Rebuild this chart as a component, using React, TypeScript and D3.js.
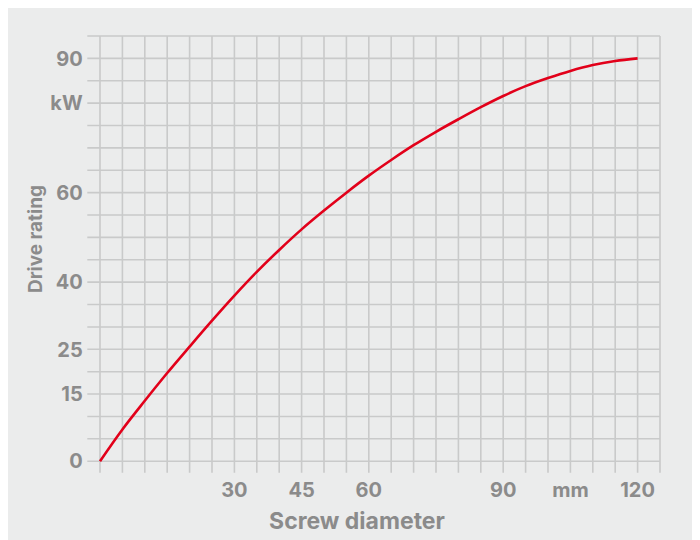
import React from "react";
import * as d3 from "d3";

const diameters = [0, 5, 10, 15, 20, 25, 30, 35, 40, 45, 50, 55, 60, 65, 70, 75, 80, 85, 90, 95, 100, 105, 110, 115, 120];
const ratings = [0, 7.1, 13.5, 19.7, 25.6, 31.4, 37.0, 42.3, 47.2, 51.8, 56.0, 60.0, 63.8, 67.3, 70.6, 73.6, 76.4, 79.1, 81.6, 83.8, 85.6, 87.2, 88.5, 89.4, 90];
const xTickValues = [30, 45, 60, 90, 120];
const xTickLabels = ["30", "45", "60", "90", "120"];
const xUnitTick = { value: 105, label: "mm" };
const yTickValues = [0, 15, 25, 40, 60, 90];
const yTickLabels = ["0", "15", "25", "40", "60", "90"];
const yUnitTick = { value: 80, label: "kW" };
const xTitle = "Screw diameter";
const yTitle = "Drive rating";

export default function App() {
  const W = 700, H = 540;
  const x = d3.scaleLinear().domain([0, 125]).range([92, 652]);
  const y = d3.scaleLinear().domain([0, 95]).range([453.2, 28]);
  const gridX = d3.range(0, 126, 5);
  const gridY = d3.range(0, 96, 5);
  const line = d3.line<number>()
    .x((_, i) => x(diameters[i]))
    .y((d) => y(d))
    .curve(d3.curveCatmullRom.alpha(0.5));
  const grid = "#c9caca";
  const text = "#8b8b8b";
  const font = "Inter, 'Noto Sans', sans-serif";
  return (
    <svg width={W} height={H} style={{ display: "block" }}>
      <rect x={0} y={0} width={W} height={H} fill="#ebecec" />
      {gridY.map((v) => (
        <line key={"h" + v} x1={x(0) - 12.7} x2={x(125)} y1={y(v)} y2={y(v)} stroke={grid} strokeWidth={1.6} />
      ))}
      {gridX.map((v) => (
        <line key={"v" + v} x1={x(v)} x2={x(v)} y1={y(95)} y2={y(0) + 11.5} stroke={grid} strokeWidth={1.6} />
      ))}
      <path d={line(ratings) || ""} fill="none" stroke="#e2001a" strokeWidth={2.6} strokeLinejoin="round" />
      <g fontFamily={font} fontWeight={700} fill={text} fontSize={20}>
        {yTickValues.map((v, i) => (
          <text key={"yt" + v} x={74.7} y={y(v)} dy="0.36em" textAnchor="end">{yTickLabels[i]}</text>
        ))}
        <text x={74.7} y={y(yUnitTick.value)} dy="0.36em" textAnchor="end">{yUnitTick.label}</text>
        {xTickValues.map((v, i) => (
          <text key={"xt" + v} x={x(v)} y={488.7} textAnchor="middle">{xTickLabels[i]}</text>
        ))}
        <text x={x(xUnitTick.value)} y={488.7} textAnchor="middle">{xUnitTick.label}</text>
        <text x={349} y={521.3} textAnchor="middle" fontSize={23}>{xTitle}</text>
        <text transform={`translate(34,231) rotate(-90)`} textAnchor="middle" fontSize={19}>{yTitle}</text>
      </g>
    </svg>
  );
}
